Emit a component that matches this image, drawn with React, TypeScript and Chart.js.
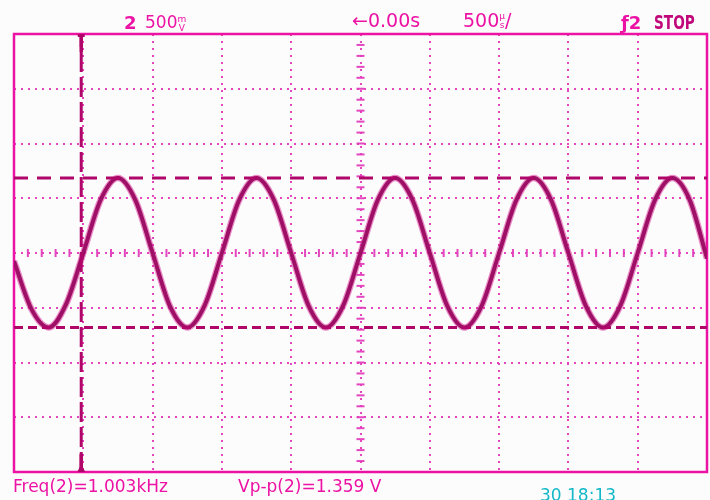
import React, { useEffect, useRef } from "react";
import { Chart, registerables } from "chart.js";

Chart.register(...registerables);

// Horizontal position in divisions (500 µs/div), vertical in divisions (500 mV/div)
const timeDiv = [
  0, 0.25, 0.5, 0.75, 1, 1.25, 1.5, 1.75, 2, 2.25, 2.5, 2.75, 3, 3.25, 3.5, 3.75,
  4, 4.25, 4.5, 4.75, 5, 5.25, 5.5, 5.75, 6, 6.25, 6.5, 6.75, 7, 7.25, 7.5, 7.75,
  8, 8.25, 8.5, 8.75, 9, 9.25, 9.5, 9.75, 10,
];
const traceDiv = [
  -0.15, -1.02, -1.36, -0.94, 0, 0.97, 1.37, 0.97, 0, -0.97, -1.36, -0.96, 0, 0.97, 1.37, 0.97,
  0, -0.96, -1.36, -0.96, 0, 0.97, 1.37, 0.97, 0, -0.96, -1.36, -0.96, 0, 0.97, 1.37, 0.97,
  0, -0.96, -1.36, -0.96, 0, 0.97, 1.37, 0.97, -0.1,
];
const cursorTimeX = [0.97, 0.97];
const cursorTimeY = [-4, 4];
const cursorLevelX = [0, 10];
const cursorTopY = [1.37, 1.37];
const cursorBottomY = [-1.36, -1.36];
const xDivisions = [0, 10];
const yDivisions = [-4, 4];

const MAGENTA = "#ec12a4";
const GRID = "rgba(226,60,186,0.95)";
const CURSOR = "#b0066a";

const pts = (xs: number[], ys: number[]) => xs.map((x, i) => ({ x, y: ys[i] }));

const scopePlugin = {
  id: "scope",
  beforeDatasetsDraw(chart: any) {
    const { ctx, chartArea: a, scales } = chart;
    const xs = scales.x;
    const ys = scales.y;
    ctx.save();
    // center axis ticks
    ctx.strokeStyle = GRID;
    ctx.lineWidth = 2;
    const cy = ys.getPixelForValue(0);
    const cx = xs.getPixelForValue(5);
    for (let v = xDivisions[0]; v <= xDivisions[1] + 1e-6; v += 0.2) {
      const px = xs.getPixelForValue(v);
      ctx.beginPath();
      ctx.moveTo(px, cy - 4);
      ctx.lineTo(px, cy + 4);
      ctx.stroke();
    }
    for (let v = yDivisions[0]; v <= yDivisions[1] + 1e-6; v += 0.2) {
      const py = ys.getPixelForValue(v);
      ctx.beginPath();
      ctx.moveTo(cx - 4, py);
      ctx.lineTo(cx + 4, py);
      ctx.stroke();
    }
    // frame
    ctx.strokeStyle = MAGENTA;
    ctx.lineWidth = 2.5;
    ctx.strokeRect(a.left, a.top, a.right - a.left, a.bottom - a.top);
    // cursor end markers
    const vx = xs.getPixelForValue(cursorTimeX[0]);
    ctx.strokeStyle = CURSOR;
    ctx.lineWidth = 3.5;
    ctx.beginPath();
    ctx.moveTo(vx, a.top);
    ctx.lineTo(vx, a.top + 18);
    ctx.moveTo(vx, a.bottom - 18);
    ctx.lineTo(vx, a.bottom);
    ctx.stroke();
    ctx.fillStyle = CURSOR;
    ctx.fillRect(vx - 3.5, a.top, 7, 3);
    ctx.beginPath();
    ctx.moveTo(vx - 4, a.bottom);
    ctx.lineTo(vx + 4, a.bottom);
    ctx.lineTo(vx, a.bottom - 8);
    ctx.closePath();
    ctx.fill();
    ctx.restore();
  },
};

export default function App() {
  const ref = useRef<HTMLCanvasElement | null>(null);

  useEffect(() => {
    document.body.style.margin = "0";
    document.body.style.background = "#fdfcfd";
    if (!ref.current) return;
    const gridColor = (edges: number[]) => (c: any) =>
      c.tick && (c.tick.value === edges[0] || c.tick.value === edges[1]) ? "rgba(0,0,0,0)" : GRID;
    const chart = new Chart(ref.current, {
      type: "line",
      data: {
        datasets: [
          {
            data: pts(cursorTimeX, cursorTimeY),
            borderColor: CURSOR,
            borderWidth: 3,
            borderDash: [20, 5],
            pointRadius: 0,
          },
          {
            data: pts(cursorLevelX, cursorTopY),
            borderColor: CURSOR,
            borderWidth: 3,
            borderDash: [14, 9],
            pointRadius: 0,
          },
          {
            data: pts(cursorLevelX, cursorBottomY),
            borderColor: CURSOR,
            borderWidth: 3,
            borderDash: [9, 5],
            pointRadius: 0,
          },
          {
            data: pts(timeDiv, traceDiv),
            borderColor: "rgba(215,30,145,0.5)",
            borderWidth: 6.5,
            pointRadius: 0,
            cubicInterpolationMode: "monotone",
          },
          {
            data: pts(timeDiv, traceDiv),
            borderColor: "#62023a",
            borderWidth: 4,
            pointRadius: 0,
            cubicInterpolationMode: "monotone",
          },
        ],
      },
      options: {
        animation: false,
        responsive: false,
        devicePixelRatio: 1,
        layout: { padding: { left: 14, right: 3, top: 34, bottom: 28 } },
        plugins: { legend: { display: false }, tooltip: { enabled: false }, title: { display: false } },
        scales: {
          x: {
            type: "linear",
            min: xDivisions[0],
            max: xDivisions[1],
            ticks: { display: false, stepSize: 1 },
            grid: { color: gridColor(xDivisions), lineWidth: 2, drawTicks: false },
            border: { display: false, dash: [2, 5] },
          },
          y: {
            type: "linear",
            min: yDivisions[0],
            max: yDivisions[1],
            ticks: { display: false, stepSize: 1 },
            grid: { color: gridColor(yDivisions), lineWidth: 2, drawTicks: false },
            border: { display: false, dash: [2, 5] },
          },
        },
      },
      plugins: [scopePlugin],
    });
    return () => chart.destroy();
  }, []);

  const font = "'DejaVu Sans', sans-serif";
  const txt = (left: number, top: number, size: number, extra: any = {}) => ({
    position: "absolute" as const,
    left,
    top,
    fontFamily: font,
    fontSize: size,
    lineHeight: `${size}px`,
    color: MAGENTA,
    whiteSpace: "nowrap" as const,
    ...extra,
  });
  const stack = (top: string, bottom: string) => (
    <span style={{ display: "inline-block", fontSize: 9, lineHeight: "9px", verticalAlign: "top", textAlign: "center", marginTop: 1 }}>
      {top}
      <br />
      {bottom}
    </span>
  );

  return (
    <div style={{ position: "relative", width: 710, height: 500, overflow: "hidden", background: "#fdfcfd" }}>
      <canvas ref={ref} width={710} height={500} style={{ position: "absolute", left: 0, top: 0 }} />
      <div style={txt(124, 14, 18, { fontWeight: "bold" })}>2</div>
      <div style={txt(145, 14, 17)}>
        500{stack("m", "V")}
      </div>
      <div style={txt(352, 11, 19)}>←0.00s</div>
      <div style={txt(463, 11, 19)}>
        500{stack("µ", "s")}/
      </div>
      <div style={txt(621, 14, 18, { fontWeight: "bold" })}>ƒ2</div>
      <div style={txt(654, 13, 19, { fontWeight: "bold", color: "#c0087a", transform: "scaleX(0.72)", transformOrigin: "left top" })}>
        STOP
      </div>
      <div style={txt(13, 478, 17)}>Freq(2)=1.003kHz</div>
      <div style={txt(238, 478, 17)}>Vp-p(2)=1.359 V</div>
      <div style={txt(540, 487, 17, { color: "#12b8c8" })}>30 18:13</div>
    </div>
  );
}
